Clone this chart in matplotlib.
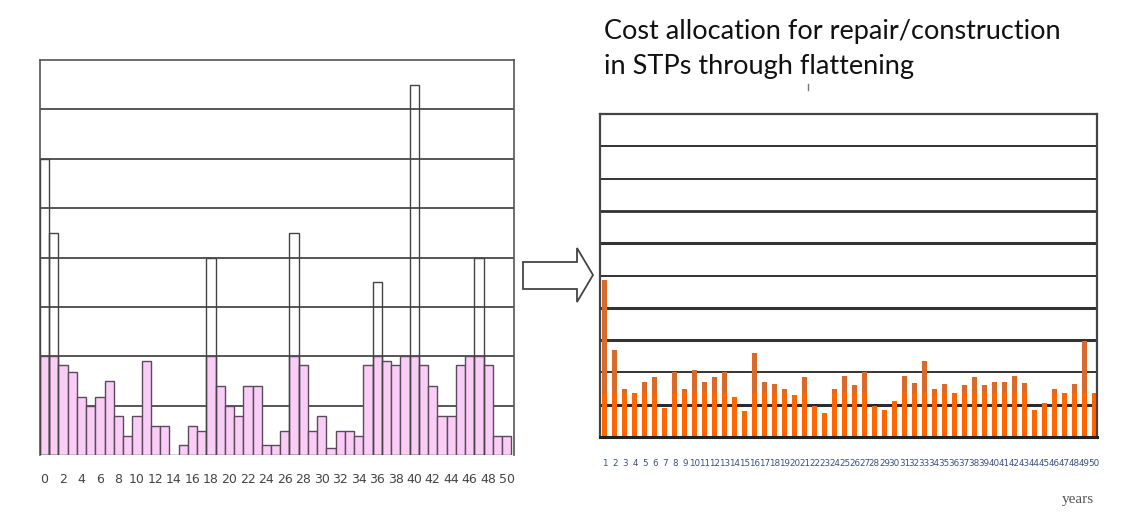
import matplotlib
matplotlib.use("Agg")
import matplotlib.pyplot as plt
from matplotlib.patches import Polygon
from matplotlib.lines import Line2D
import numpy as np

# ---------------- data ----------------
left_years = list(range(0, 51))
left_values = [6.0, 4.5, 1.82, 1.69, 1.17, 1.0, 1.17, 1.5, 0.79, 0.39,
               0.79, 1.91, 0.59, 0.59, 0.0, 0.2, 0.59, 0.49, 4.0, 1.4,
               1.0, 0.79, 1.4, 1.4, 0.2, 0.2, 0.49, 4.5, 1.82, 0.49,
               0.79, 0.14, 0.49, 0.49, 0.39, 1.82, 3.5, 1.91, 1.82, 2.0,
               7.5, 1.82, 1.4, 0.79, 0.79, 1.82, 2.0, 4.0, 1.82, 0.39, 0.39]
left_cap = 2.0
left_tick_labels = [str(v) for v in range(0, 51, 2)]

right_years = list(range(1, 51))
right_values = [4.86, 2.69, 1.48, 1.35, 1.71, 1.85, 0.89, 2.0, 1.48, 2.07,
                1.71, 1.87, 2.0, 1.23, 0.80, 2.61, 1.71, 1.64, 1.48, 1.30,
                1.85, 0.97, 0.73, 1.48, 1.89, 1.61, 2.0, 0.97, 0.84, 1.11,
                1.89, 1.66, 2.36, 1.48, 1.64, 1.35, 1.61, 1.85, 1.61, 1.71,
                1.71, 1.89, 1.66, 0.84, 1.06, 1.48, 1.35, 1.64, 2.98, 1.35]
right_level = 1.36
right_tick_labels = [str(v) for v in right_years]

title_lines = ["Cost allocation for repair/construction", "in STPs through flattening"]
x_unit = "years"

# ---------------- figure ----------------
W, H = 1121, 513
fig = plt.figure(figsize=(W / 100, H / 100), dpi=100)
fig.patch.set_facecolor("white")

def fx(px):
    return px / W

def fy(py):
    return 1 - py / H

narrow = ["Liberation Sans Narrow", "DejaVu Sans Condensed", "DejaVu Sans"]

# ---------- left chart ----------
axL = fig.add_axes([fx(40), fy(455), fx(514) - fx(40), fy(60) - fy(455)])
axL.set_xlim(-0.5, 50.8)
axL.set_ylim(0, 8)
for g in range(1, 8):
    axL.axhline(g, color="#3a3a3a", lw=1.2, zorder=1)
lv = np.array(left_values)
axL.bar(left_years, np.minimum(lv, left_cap), width=1.0, color="#F9CDF6",
        edgecolor="#5a4a5a", linewidth=1.0, zorder=2)
tall = lv > left_cap
axL.bar(np.array(left_years)[tall], lv[tall], width=1.0, fill=False,
        edgecolor="#444444", linewidth=1.0, zorder=3)
for s in ["top", "left", "right"]:
    axL.spines[s].set_color("#555555")
    axL.spines[s].set_linewidth(1.2)
axL.spines["bottom"].set_visible(False)
axL.set_yticks([])
axL.set_xticks(range(0, 51, 2))
axL.set_xticklabels(left_tick_labels, fontsize=9, color="#444444", family=narrow)
axL.tick_params(axis="x", length=0, pad=13)

# ---------- right chart ----------
axR = fig.add_axes([fx(600), fy(437), fx(1097) - fx(600), fy(114) - fy(437)])
axR.set_xlim(0.5, 50.3)
axR.set_ylim(0, 10)
grid_w = [2.2, 1.4, 2.2, 2.2, 1.4, 2.2, 2.0, 1.4, 1.4]
for g, w in zip(range(1, 10), grid_w):
    axR.axhline(g, color="#2a2a35" if g == 1 else "#333333", lw=w, zorder=1)
rv = np.array(right_values)
axR.bar(right_years, np.minimum(rv, right_level), width=0.5, color="#FF6600",
        linewidth=0, zorder=2)
axR.bar(right_years, np.clip(rv - right_level, 0, None), bottom=right_level,
        width=0.5, color="#DA6A2A", linewidth=0, zorder=2)
for s in ["top", "left", "right", "bottom"]:
    axR.spines[s].set_color("#444444")
    axR.spines[s].set_linewidth(1.6)
axR.spines["bottom"].set_color("#222222")
axR.spines["bottom"].set_linewidth(2.2)
axR.set_yticks([])
axR.set_xticks(right_years)
axR.set_xticklabels(right_tick_labels, fontsize=6.3, color="#3b4f7a", family=narrow)
axR.tick_params(axis="x", length=0, pad=16)

# ---------- arrow ----------
arrow_px = [(523, 262), (577, 262), (577, 248), (593, 275), (577, 302), (577, 289), (523, 289)]
arrow = Polygon([(fx(x), fy(y)) for x, y in arrow_px], closed=True, transform=fig.transFigure,
                facecolor="white", edgecolor="#444444", linewidth=1.3)
fig.patches.append(arrow)

# ---------- title ----------
fig.text(fx(604), fy(39.5), title_lines[0], fontsize=19.5, family="Lato", color="#111111",
         va="baseline", ha="left")
fig.text(fx(604), fy(74), title_lines[1], fontsize=19.5, family="Lato", color="#111111",
         va="baseline", ha="left")
fig.add_artist(Line2D([fx(808), fx(808)], [fy(84), fy(90)], transform=fig.transFigure,
                      color="#777777", lw=1))

# ---------- years ----------
fig.text(fx(1078), fy(500), x_unit, fontsize=11, family="Liberation Serif", color="#555555",
         ha="center", va="center")

fig.savefig("out.png", dpi=100, facecolor="white")
